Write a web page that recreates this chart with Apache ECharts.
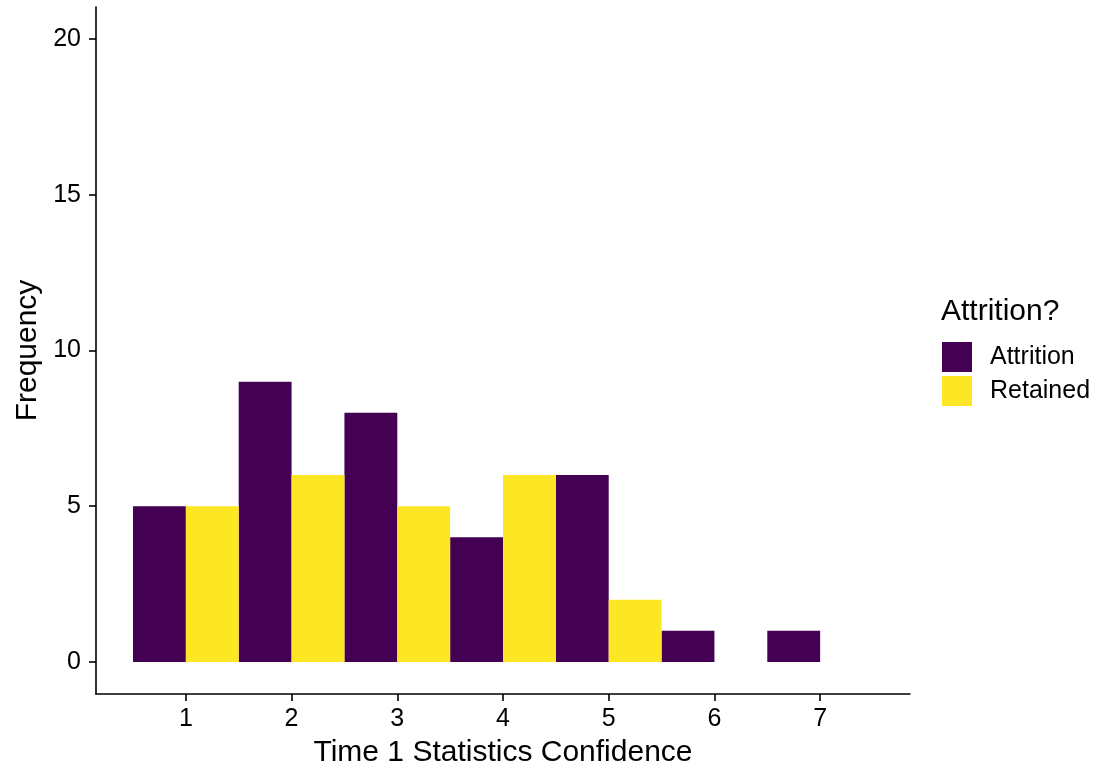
<!DOCTYPE html>
<html>
<head>
<meta charset="utf-8">
<script src="https://cdn.jsdelivr.net/npm/echarts@6/dist/echarts.min.js"></script>
<style>
html,body{margin:0;padding:0;background:#fff;}
#chart{width:1102px;height:768px;}
</style>
</head>
<body>
<div id="chart"></div>
<script>
// Data
const confidenceLevels = [1, 2, 3, 4, 5, 6, 7];
const attritionCounts = [5, 9, 8, 4, 6, 1, 1];
const retainedCounts = [5, 6, 5, 6, 2, 0, 0];
const yTicks = [0, 5, 10, 15, 20];
const seriesNames = ['Attrition', 'Retained'];
const seriesColors = ['#440154', '#FDE725'];

const FONT = '"Liberation Sans", Arial, Helvetica, sans-serif';

function makeRender(lo, hi) {
  return function (params, api) {
    const x = api.value(0), y = api.value(1);
    if (!y) return null;
    const p0 = api.coord([x + lo, y]);
    const p1 = api.coord([x + hi, 0]);
    return {
      type: 'rect',
      shape: { x: p0[0], y: p0[1], width: p1[0] - p0[0], height: p1[1] - p0[1] },
      style: api.style()
    };
  };
}

const chart = echarts.init(document.getElementById('chart'));
chart.setOption({
  animation: false,
  backgroundColor: '#fff',
  textStyle: { fontFamily: FONT },
  title: {
    text: 'Attrition?',
    left: 941, top: 297, padding: 0,
    textStyle: { fontFamily: FONT, fontSize: 30, fontWeight: 'normal', color: '#000' }
  },
  legend: {
    orient: 'vertical',
    left: 942, top: 342, padding: 0,
    itemWidth: 30, itemHeight: 30, itemGap: 4,
    icon: 'rect',
    data: seriesNames,
    textStyle: { fontFamily: FONT, fontSize: 25, color: '#000', padding: [0, 0, 0, 13] }
  },
  grid: { left: 96, right: 192, top: 7, bottom: 74, containLabel: false, outerBoundsMode: 'none' },
  xAxis: {
    type: 'value',
    min: 0.15, max: 7.85,
    name: 'Time 1 Statistics Confidence',
    nameLocation: 'middle',
    nameGap: 44,
    nameTextStyle: { fontFamily: FONT, fontSize: 30, color: '#000' },
    axisLine: { show: true, onZero: false, lineStyle: { color: '#000', width: 1.6 } },
    axisTick: { show: true, length: 7, lineStyle: { color: '#000', width: 1.6 }, customValues: confidenceLevels },
    axisLabel: { fontFamily: FONT, fontSize: 25, color: '#000', margin: 13, customValues: confidenceLevels },
    splitLine: { show: false }
  },
  yAxis: {
    type: 'value',
    min: -1.03, max: 21.03,
    name: 'Frequency',
    nameLocation: 'middle',
    nameGap: 52,
    nameRotate: 90,
    nameTextStyle: { fontFamily: FONT, fontSize: 30, color: '#000' },
    axisLine: { show: true, onZero: false, lineStyle: { color: '#000', width: 1.6 } },
    axisTick: { show: true, length: 7, lineStyle: { color: '#000', width: 1.6 }, customValues: yTicks },
    axisLabel: { fontFamily: FONT, fontSize: 25, color: '#000', margin: 15, customValues: yTicks },
    splitLine: { show: false }
  },
  series: [
    {
      name: seriesNames[0], type: 'custom',
      itemStyle: { color: seriesColors[0] },
      renderItem: makeRender(-0.5, 0),
      encode: { x: 0, y: 1 },
      data: confidenceLevels.map((v, i) => [v, attritionCounts[i]])
    },
    {
      name: seriesNames[1], type: 'custom',
      itemStyle: { color: seriesColors[1] },
      renderItem: makeRender(0, 0.5),
      encode: { x: 0, y: 1 },
      data: confidenceLevels.map((v, i) => [v, retainedCounts[i]])
    }
  ]
});
</script>
</body>
</html>
